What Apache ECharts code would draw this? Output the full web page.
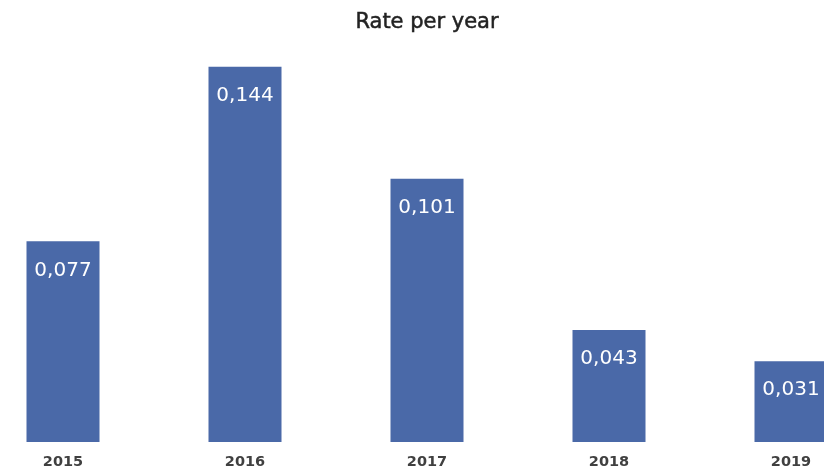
<!DOCTYPE html>
<html>
<head>
<meta charset="utf-8">
<script src="https://cdn.jsdelivr.net/npm/echarts@6/dist/echarts.min.js"></script>
<style>
  html, body { margin: 0; padding: 0; background: #ffffff; overflow: hidden; }
  #wrap { width: 824px; height: 472px; overflow: hidden; position: relative; }
  /* the plot is wider than the viewport so the outer bars run to the edges */
  #chart { width: 910px; height: 472px; position: absolute; left: -28px; top: 0; }
</style>
</head>
<body>
<div id="wrap"><div id="chart"></div></div>
<script>
// Yearly rate values
const years = ['2015', '2016', '2017', '2018', '2019'];
const rates = [0.077, 0.144, 0.101, 0.043, 0.031];

const chart = echarts.init(document.getElementById('chart'));

chart.setOption({
  animation: false,
  title: {
    text: 'Rate per year',
    left: 'center',
    top: 7,
    textStyle: {
      fontFamily: 'DejaVu Sans',
      fontSize: 21,
      fontWeight: 'normal',
      color: '#222222',
      textBorderColor: '#222222',
      textBorderWidth: 0.5
    }
  },
  grid: {
    left: 0,
    right: 0,
    top: 25,
    bottom: 30,
    containLabel: false
  },
  xAxis: {
    type: 'category',
    data: years,
    axisLine: { show: false },
    axisTick: { show: false },
    axisLabel: {
      margin: 13,
      fontFamily: 'DejaVu Sans',
      fontSize: 14.5,
      fontWeight: 'bold',
      color: '#404040'
    }
  },
  yAxis: {
    type: 'value',
    min: 0,
    max: 0.16,
    show: false,
    splitLine: { show: false }
  },
  series: [{
    type: 'bar',
    data: rates,
    barWidth: 73,
    itemStyle: { color: '#4a69a8' },
    label: {
      show: true,
      position: 'insideTop',
      distance: 19,
      fontFamily: 'DejaVu Sans',
      fontSize: 20,
      color: '#ffffff',
      formatter: p => p.value.toFixed(3).replace('.', ',')
    }
  }]
});
</script>
</body>
</html>
